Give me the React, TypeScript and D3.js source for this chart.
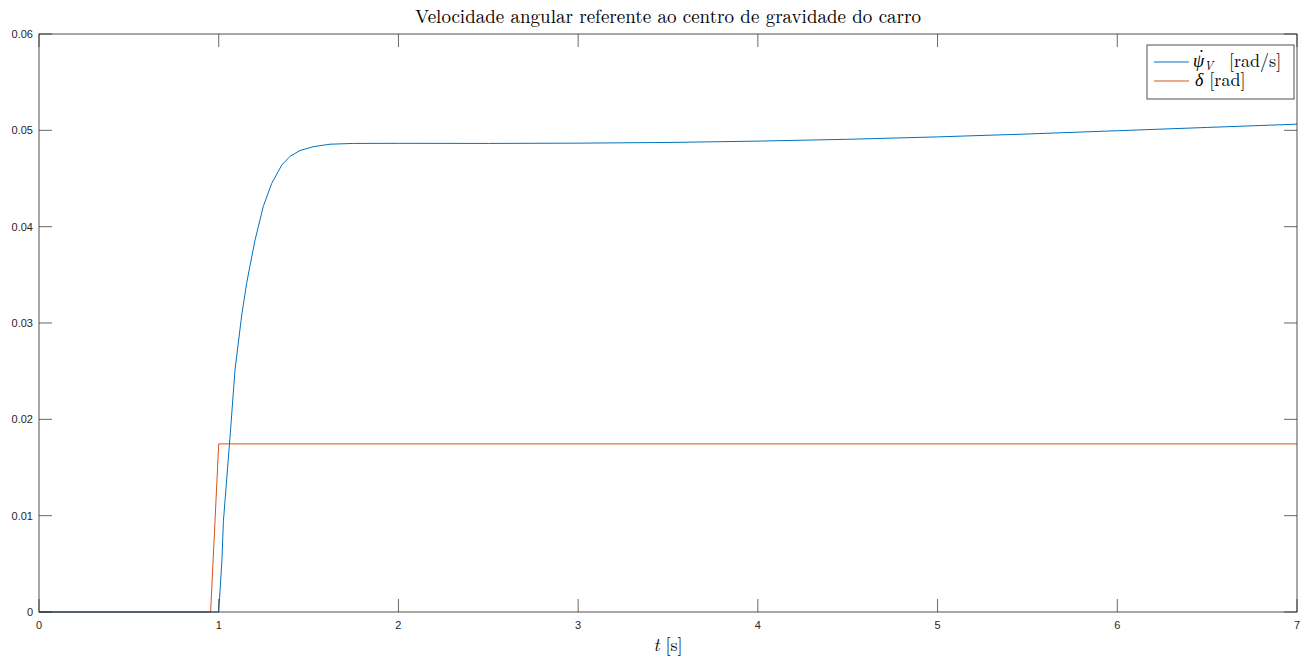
import React from 'react';
import * as d3 from 'd3';

const title = 'Velocidade angular referente ao centro de gravidade do carro';
const xTicks = [0, 1, 2, 3, 4, 5, 6, 7];
const yTicks = [0, 0.01, 0.02, 0.03, 0.04, 0.05, 0.06];

// yaw rate psi_dot_V [rad/s]
const psiT = [0, 1.0, 1.018, 1.026, 1.063, 1.091, 1.128, 1.156, 1.202, 1.248, 1.295, 1.351, 1.397, 1.452, 1.526, 1.619, 1.75, 2, 2.5, 3, 3.5, 4, 4.5, 5, 5.5, 6, 6.5, 7];
const psiV = [0, 0, 0.0054, 0.0094, 0.0182, 0.0252, 0.0308, 0.0342, 0.0386, 0.0421, 0.0445, 0.0464, 0.0473, 0.0479, 0.0483, 0.04856, 0.04864, 0.04865, 0.04864, 0.04867, 0.04874, 0.04888, 0.04907, 0.04932, 0.04962, 0.04996, 0.0503, 0.05064];

// steering angle delta [rad]
const deltaT = [0, 0.955, 1.0, 7];
const deltaV = [0, 0, 0.01745, 0.01745];

const W = 1305;
const H = 658;
const m = { left: 39, right: 8, top: 34, bottom: 46 };
const blue = '#0072BD';
const red = '#D95319';
const axisColor = '#262626';
const latex = '"Latin Modern Roman", "Liberation Serif", serif';
const sans = '"Liberation Sans", Arial, sans-serif';

export default function App() {
  const x = d3.scaleLinear().domain([0, 7]).range([m.left, W - m.right]);
  const y = d3.scaleLinear().domain([0, 0.06]).range([H - m.bottom, m.top]);
  const tickLen = 13;

  const line = d3.line<[number, number]>()
    .x(d => x(d[0]))
    .y(d => y(d[1]));

  const psiPts = psiT.map((t, i) => [t, psiV[i]] as [number, number]);
  const deltaPts = deltaT.map((t, i) => [t, deltaV[i]] as [number, number]);

  const x0 = x(0), x1 = x(7), y0 = y(0), y1 = y(0.06);

  return (
    <svg width={W} height={H} style={{ position: 'absolute', left: 0, top: 0, background: '#fff' }}>
      <rect x={0} y={0} width={W} height={H} fill="#fff" />
      <text x={(x0 + x1) / 2} y={22.5} textAnchor="middle" fontFamily={latex} fontSize={19} fill="#000">{title}</text>

      <path d={line(deltaPts) || ''} fill="none" stroke={red} strokeWidth={1} />
      <path d={line(psiPts) || ''} fill="none" stroke={blue} strokeWidth={1} />

      {/* box */}
      <rect x={x0} y={y1} width={x1 - x0} height={y0 - y1} fill="none" stroke={axisColor} strokeWidth={0.8} />

      {xTicks.map(t => (
        <g key={'x' + t}>
          <line x1={x(t)} x2={x(t)} y1={y0} y2={y0 - tickLen} stroke={axisColor} strokeWidth={0.7} />
          <line x1={x(t)} x2={x(t)} y1={y1} y2={y1 + tickLen} stroke={axisColor} strokeWidth={0.7} />
          <text x={x(t)} y={y0 + 17} textAnchor="middle" fontFamily={sans} fontSize={11} fill={axisColor}>{t}</text>
        </g>
      ))}
      {yTicks.map(v => (
        <g key={'y' + v}>
          <line x1={x0} x2={x0 + tickLen} y1={y(v)} y2={y(v)} stroke={axisColor} strokeWidth={0.7} />
          <line x1={x1} x2={x1 - tickLen} y1={y(v)} y2={y(v)} stroke={axisColor} strokeWidth={0.7} />
          <text x={x0 - 6} y={y(v) + 4} textAnchor="end" fontFamily={sans} fontSize={11} fill={axisColor}>{v === 0 ? '0' : d3.format('.2f')(v)}</text>
        </g>
      ))}

      <text x={(x0 + x1) / 2} y={651} textAnchor="middle" fontFamily={latex} fontSize={18} fill="#000">
        <tspan fontStyle="italic">t</tspan> [s]
      </text>

      {/* legend */}
      <g>
        <rect x={1147} y={45} width={147} height={54} fill="#fff" stroke={axisColor} strokeWidth={0.8} />
        <line x1={1154} x2={1189} y1={62} y2={62} stroke={blue} strokeWidth={1} />
        <line x1={1154} x2={1189} y1={81} y2={81} stroke={red} strokeWidth={1} />
        <text x={1193} y={67} fontFamily={latex} fontSize={18} fill="#000">
          <tspan fontStyle="italic">{'\u03C8'}</tspan>
          <tspan fontStyle="italic" fontSize={12} dy={3}>V</tspan>
          <tspan x={1229} y={67}>[rad/s]</tspan>
        </text>
        <circle cx={1201.5} cy={51} r={1.1} fill="#000" />
        <text x={1195} y={86} fontFamily={latex} fontSize={18} fill="#000">
          <tspan fontStyle="italic">{'\u03B4'}</tspan> [rad]
        </text>
      </g>
    </svg>
  );
}
